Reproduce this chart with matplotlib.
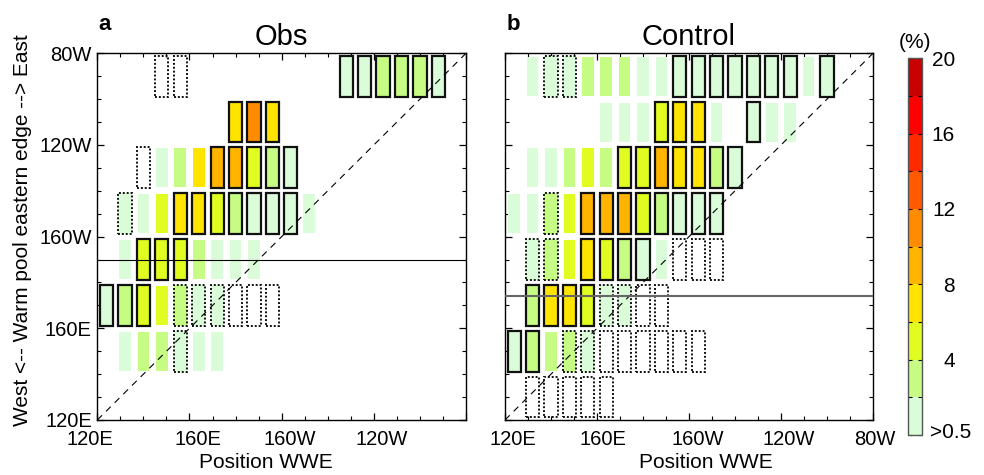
import matplotlib
matplotlib.use('Agg')
import matplotlib.pyplot as plt
import matplotlib.transforms as mtransforms
from matplotlib.colors import ListedColormap, BoundaryNorm
from matplotlib.patches import Rectangle
from matplotlib.cm import ScalarMappable
import numpy as np

plt.rcParams['font.family'] = ['Liberation Sans', 'DejaVu Sans']

# grid of bins: WWE position (x, 8 deg) vs warm pool edge (y, 20 deg), degrees east
col_centers = np.arange(124, 280, 8)
row_centers = np.arange(130, 280, 20)

tick_pos = [120, 160, 200, 240, 280]
tick_lab = ['120E', '160E', '160W', '120W', '80W']

# probability (%) read per cell, rows listed top (80W) to bottom (120E)
obs_prob = [
    [0, 0, 0, 0, 0, 0, 0, 0, 0, 0, 0, 0, 0, 1, 1, 3, 3, 3, 1, 0],
    [0, 0, 0, 0, 0, 0, 0, 7, 11, 7, 0, 0, 0, 0, 0, 0, 0, 0, 0, 0],
    [0, 0, 0, 1, 3, 7, 9, 9, 5, 3, 1, 0, 0, 0, 0, 0, 0, 0, 0, 0],
    [0, 1, 1, 5, 7, 7, 5, 3, 1, 1, 1, 1, 0, 0, 0, 0, 0, 0, 0, 0],
    [0, 1, 5, 5, 5, 3, 1, 1, 1, 0, 0, 0, 0, 0, 0, 0, 0, 0, 0, 0],
    [1, 3, 5, 5, 3, 1, 1, 0, 0, 0, 0, 0, 0, 0, 0, 0, 0, 0, 0, 0],
    [0, 1, 3, 3, 1, 1, 1, 0, 0, 0, 0, 0, 0, 0, 0, 0, 0, 0, 0, 0],
    [0, 0, 0, 0, 0, 0, 0, 0, 0, 0, 0, 0, 0, 0, 0, 0, 0, 0, 0, 0],
]
# S = significant (solid box), D = dotted box, . = none
obs_sig = [
    "...DD........SSSSSS.",
    ".......SSS..........",
    "..D...SSSSS.........",
    ".D..SSSSSSS.........",
    "..SSS...............",
    "SSS.DDDDDD..........",
    "....D...............",
    "....................",
]

ctrl_prob = [
    [0, 1, 1, 1, 3, 3, 3, 1, 1, 1, 1, 1, 1, 1, 1, 1, 1, 1, 0, 0],
    [0, 0, 0, 0, 0, 1, 1, 1, 5, 7, 7, 1, 0, 1, 1, 1, 0, 0, 0, 0],
    [0, 1, 1, 3, 5, 3, 5, 5, 9, 7, 7, 3, 1, 0, 0, 0, 0, 0, 0, 0],
    [1, 1, 3, 5, 9, 9, 9, 5, 3, 1, 1, 1, 0, 0, 0, 0, 0, 0, 0, 0],
    [0, 1, 3, 5, 7, 5, 3, 1, 1, 0, 0, 0, 0, 0, 0, 0, 0, 0, 0, 0],
    [0, 3, 7, 7, 5, 1, 1, 0, 0, 0, 0, 0, 0, 0, 0, 0, 0, 0, 0, 0],
    [1, 3, 3, 3, 1, 0, 0, 0, 0, 0, 0, 0, 0, 0, 0, 0, 0, 0, 0, 0],
    [0, 0, 0, 0, 0, 0, 0, 0, 0, 0, 0, 0, 0, 0, 0, 0, 0, 0, 0, 0],
]
ctrl_sig = [
    "..DD.....SSSSSSS.S..",
    "........SSS..S......",
    "......SSSSSSS.......",
    "..D.SSSSSSSS........",
    ".DD.SSSS.DDD........",
    ".SSSSDDDD...........",
    "SS.DDDDDDDD.........",
    ".DDDDD..............",
]

obs_hline = 190
ctrl_hline = 174

bounds = np.arange(0, 21, 2)
colors = ['#dafcd8', '#c6fc84', '#e0fc20', '#ffe400', '#ffb400',
          '#ff8c00', '#ff5a00', '#ff2a00', '#ff0000', '#c80000']
cmap = ListedColormap(colors)
norm = BoundaryNorm(bounds, cmap.N)

fig = plt.figure(figsize=(9.84, 4.75), dpi=100)
ax1 = fig.add_axes([0.0989, 0.1158, 0.3747, 0.772])
ax2 = fig.add_axes([0.5132, 0.1158, 0.374, 0.772])
cax = fig.add_axes([0.923, 0.0842, 0.0137, 0.793])


def draw_panel(ax, prob, sig, hline, hcolor, hlw):
    prob = np.array(prob[::-1], dtype=float)
    sig = sig[::-1]
    for r, yc in enumerate(row_centers):
        for k, xc in enumerate(col_centers):
            v = prob[r, k]
            s = sig[r][k]
            fc = cmap(norm(v)) if v >= 0.5 else 'none'
            if s == 'S':
                ax.add_patch(Rectangle((xc - 2.85, yc - 8.9), 5.7, 17.8, facecolor=fc,
                                       edgecolor='#111111', lw=1.6, zorder=3))
            elif s == 'D':
                ax.add_patch(Rectangle((xc - 2.85, yc - 8.9), 5.7, 17.8, facecolor=fc,
                                       edgecolor='#111111', lw=1.4, ls=(0, (1, 1)), zorder=3))
            elif v >= 0.5:
                ax.add_patch(Rectangle((xc - 2.55, yc - 8.5), 5.1, 17, facecolor=fc,
                                       edgecolor='none', zorder=2))
    ax.plot([120, 280], [120, 280], color='k', lw=0.8, ls=(0, (6, 5)), zorder=4)
    ax.axhline(hline, color=hcolor, lw=hlw, zorder=4)
    ax.set_xlim(120, 280)
    ax.set_ylim(120, 280)
    ax.set_xticks(tick_pos)
    ax.set_yticks(tick_pos)
    ax.set_xticks(np.arange(120, 281, 10), minor=True)
    ax.set_yticks(np.arange(120, 281, 10), minor=True)
    ax.tick_params(which='both', direction='in', top=True, right=True, labelsize=14.5)
    ax.tick_params(which='major', length=5, width=0.9)
    ax.tick_params(which='minor', length=3, width=0.8)
    ax.tick_params(axis='x', pad=7)
    ax.tick_params(axis='y', pad=4)
    for sp in ax.spines.values():
        sp.set_linewidth(1.0)


draw_panel(ax1, obs_prob, obs_sig, obs_hline, 'k', 0.8)
draw_panel(ax2, ctrl_prob, ctrl_sig, ctrl_hline, '#666666', 1.5)

ax1.set_xticklabels(tick_lab[:4] + [''])
ax1.set_yticklabels(tick_lab)
ax2.set_xticklabels(tick_lab)
ax2.set_yticklabels([])


def shift_labels(ax, offsets):
    for lbl, dx in zip(ax.get_xticklabels(), offsets):
        lbl.set_transform(lbl.get_transform() +
                          mtransforms.ScaledTranslation(dx / 100, 0, fig.dpi_scale_trans))


shift_labels(ax1, [-7, 8, 8, 8, 0])
shift_labels(ax2, [8, 6, 9, 8, 2])

ax1.set_title('Obs', fontsize=21, pad=6)
ax2.set_title('Control', fontsize=21, pad=6)
ax1.set_xlabel('Position WWE', fontsize=15)
ax2.set_xlabel('Position WWE', fontsize=15)
ax1.xaxis.set_label_coords(0.4575, -0.09)
ax2.xaxis.set_label_coords(0.546, -0.09)
ax1.set_ylabel('West <-- Warm pool eastern edge --> East', fontsize=15)
ax1.yaxis.set_label_coords(-0.177, 0.518)

fig.text(98 / 984, 0.937, 'a', fontsize=16, fontweight='bold')
fig.text(507 / 984, 0.937, 'b', fontsize=16, fontweight='bold')

cb = fig.colorbar(ScalarMappable(norm=norm, cmap=cmap), cax=cax, ticks=bounds)
cb.outline.set_edgecolor('#555555')
cb.outline.set_linewidth(1.0)
cax.tick_params(direction='in', length=3, width=0.8, left=True, right=True,
                labelsize=15, pad=24)
cax.set_yticklabels(['', '', '4', '', '8', '', '12', '', '16', '', '20'])
for lbl in cax.get_yticklabels():
    lbl.set_horizontalalignment('right')
fig.text(930 / 984, (475 - 433) / 475, '>0.5', fontsize=15, ha='left', va='center')
fig.text(915 / 984, (475 - 42) / 475, '(%)', fontsize=15, ha='center', va='center')

fig.savefig('out.png', dpi=100)
